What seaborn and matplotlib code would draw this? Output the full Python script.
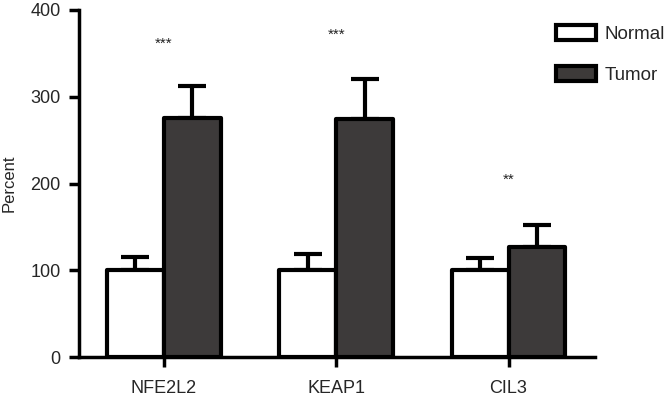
import pandas as pd
import seaborn as sns
import matplotlib.pyplot as plt

# ---- data ----
genes = ["NFE2L2", "KEAP1", "CIL3"]
groups = ["Normal", "Tumor"]
normal_vals = [100, 100, 100]
tumor_vals = [276, 274, 127]
normal_err = [16, 19, 14]
tumor_err = [36, 46, 25]
sig_labels = ["***", "***", "**"]
sig_y = [361, 372, 204]

df = pd.DataFrame({
    "gene": genes * 2,
    "group": ["Normal"] * 3 + ["Tumor"] * 3,
    "value": normal_vals + tumor_vals,
    "err": normal_err + tumor_err,
})

sns.set_theme(style="ticks")
plt.rcParams["font.family"] = ["Liberation Sans", "DejaVu Sans"]

fig = plt.figure(figsize=(6.66, 4), dpi=100)
ax = fig.add_axes([0.119, 0.107, 0.774, 0.868])

sns.barplot(data=df, x="gene", y="value", hue="group", order=genes,
            hue_order=groups, palette={"Normal": "white", "Tumor": "#3d3a39"},
            errorbar=None, width=0.66, edgecolor="black", linewidth=3,
            ax=ax, zorder=3)

# one-sided (upward) error bars, drawn from each patch
for container, grp in zip(ax.containers, groups):
    sub = df[df["group"] == grp].set_index("gene").loc[genes]
    xs = [p.get_x() + p.get_width() / 2 for p in container.patches]
    ax.errorbar(xs, sub["value"], yerr=[[0] * 3, sub["err"].tolist()],
                fmt="none", ecolor="black", elinewidth=3, capsize=10,
                capthick=3, zorder=2)
    for p in container.patches:
        p.set_joinstyle("round")

for i, (lab, yy) in enumerate(zip(sig_labels, sig_y)):
    ax.text(i, yy, lab, ha="center", va="center", fontsize=11, color="#222222")

ax.set_ylim(0, 400)
ax.set_xlim(-0.49, 2.5)
ax.set_yticks([0, 100, 200, 300, 400])
ax.set_xlabel("")
ax.set_ylabel("Percent", fontsize=12, labelpad=10)
ax.tick_params(axis="both", labelsize=13, width=2.5, length=7.5, color="black")
ax.tick_params(axis="x", pad=9)
ax.tick_params(axis="y", pad=6)
for s in ["top", "right"]:
    ax.spines[s].set_visible(False)
for s in ["left", "bottom"]:
    ax.spines[s].set_linewidth(2.5)
    ax.spines[s].set_color("black")

ax.legend_.remove()
handles = [plt.Rectangle((0, 0), 1, 1, facecolor=c, edgecolor="black",
                         linewidth=3, joinstyle="round")
           for c in ["white", "#3d3a39"]]
fig.legend(handles, groups, loc="upper left", bbox_to_anchor=(0.81, 0.98),
           frameon=False, fontsize=13.5, handlelength=2.1, handleheight=0.9,
           labelspacing=1.2, handletextpad=0.45)

fig.savefig("out.png", dpi=100)
